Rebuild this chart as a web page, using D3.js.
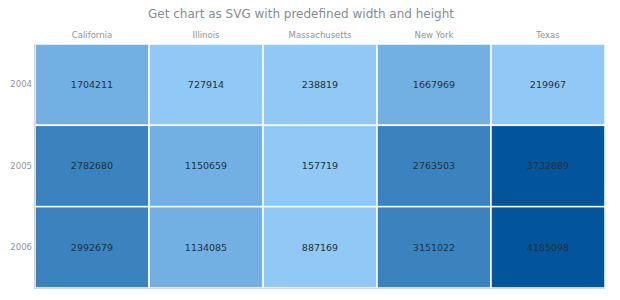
<!DOCTYPE html>
<html>
<head>
<meta charset="utf-8">
<script src="https://cdn.jsdelivr.net/npm/d3@7"></script>
<style>
  body { margin: 0; background: #fff; }
  text { font-family: "DejaVu Sans", sans-serif; }
</style>
</head>
<body>
<svg id="chart" width="620" height="300"></svg>
<script>
// data
var states = ["California", "Illinois", "Massachusetts", "New York", "Texas"];
var years = ["2004", "2005", "2006"];
var values2004 = [1704211, 727914, 238819, 1667969, 219967];
var values2005 = [2782680, 1150659, 157719, 2763503, 3732889];
var values2006 = [2992679, 1134085, 887169, 3151022, 4185098];
var colorBreaks = [1000000, 2000000, 3500000];
var colorRange = ["#90c8f6", "#72b0e3", "#3a83be", "#03559b"];

var rows = [values2004, values2005, values2006];
var cells = [];
rows.forEach(function(vals, r) {
  vals.forEach(function(v, c) {
    cells.push({ year: years[r], state: states[c], value: v });
  });
});

var svg = d3.select("#chart");
// plot area (note: "top" is taken by window.top)
var plotLeft = 35, plotRight = 605, plotTop = 44, plotBottom = 288;

var x = d3.scaleBand().domain(states).range([plotLeft, plotRight]);
var y = d3.scaleBand().domain(years).range([plotTop, plotBottom]);
var color = d3.scaleThreshold().domain(colorBreaks).range(colorRange);

svg.append("text")
  .attr("x", 301).attr("y", 18)
  .attr("text-anchor", "middle")
  .attr("font-size", 12)
  .attr("fill", "#858d94")
  .text("Get chart as SVG with predefined width and height");

svg.selectAll(".cell")
  .data(cells)
  .enter().append("rect")
  .attr("class", "cell")
  .attr("x", function(d) { return x(d.state); })
  .attr("y", function(d) { return y(d.year); })
  .attr("width", x.bandwidth())
  .attr("height", y.bandwidth())
  .attr("fill", function(d) { return color(d.value); })
  .attr("stroke", "#fff")
  .attr("stroke-width", 1.5);

svg.selectAll(".val")
  .data(cells)
  .enter().append("text")
  .attr("class", "val")
  .attr("x", function(d) { return x(d.state) + x.bandwidth() / 2; })
  .attr("y", function(d) { return y(d.year) + y.bandwidth() / 2; })
  .attr("dy", "0.35em")
  .attr("text-anchor", "middle")
  .attr("font-size", 9.5)
  .attr("fill", "#263238")
  .text(function(d) { return d.value; });

// axes: state names on top, years on the left
var xAxis = svg.append("g")
  .attr("transform", "translate(0," + (plotTop - 4) + ")")
  .call(d3.axisTop(x).tickSize(0).tickPadding(2));
var yAxis = svg.append("g")
  .attr("transform", "translate(" + (plotLeft - 3) + ",0)")
  .call(d3.axisLeft(y).tickSize(0).tickPadding(0));

[xAxis, yAxis].forEach(function(g) {
  g.select(".domain").remove();
  g.selectAll("text")
    .attr("font-family", "DejaVu Sans, sans-serif")
    .attr("font-size", 8.5)
    .attr("fill", "#8e959b");
});

// thin axis lines on the bottom and left
svg.append("line")
  .attr("x1", plotLeft).attr("x2", plotRight)
  .attr("y1", plotBottom + 0.5).attr("y2", plotBottom + 0.5)
  .attr("stroke", "#cfd8e3");
svg.append("line")
  .attr("x1", plotLeft - 0.5).attr("x2", plotLeft - 0.5)
  .attr("y1", plotTop).attr("y2", plotBottom + 1)
  .attr("stroke", "#d0d4d8");
</script>
</body>
</html>
